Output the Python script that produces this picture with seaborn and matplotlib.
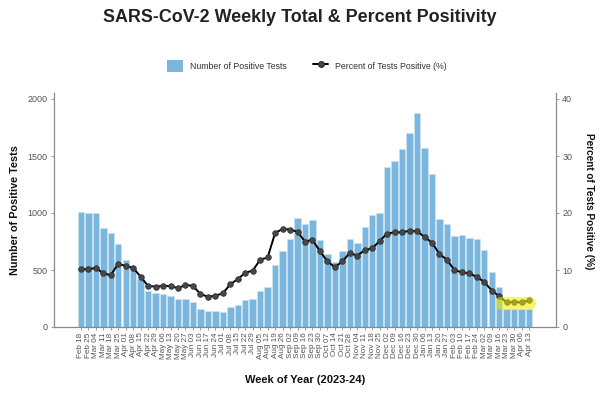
import matplotlib
matplotlib.use("Agg")
import matplotlib.pyplot as plt
import seaborn as sns
import pandas as pd
import numpy as np
from matplotlib.patches import Patch
from matplotlib.lines import Line2D

weeks = ["Feb 18", "Feb 25", "Mar 04", "Mar 11", "Mar 18", "Mar 25", "Apr 01", "Apr 08",
         "Apr 15", "Apr 22", "Apr 29", "May 06", "May 13", "May 20", "May 27", "Jun 03",
         "Jun 10", "Jun 17", "Jun 24", "Jul 01", "Jul 08", "Jul 15", "Jul 22", "Jul 29",
         "Aug 05", "Aug 12", "Aug 19", "Aug 26", "Sep 02", "Sep 09", "Sep 16", "Sep 23",
         "Sep 30", "Oct 07", "Oct 14", "Oct 21", "Oct 28", "Nov 04", "Nov 11", "Nov 18",
         "Nov 25", "Dec 02", "Dec 09", "Dec 16", "Dec 23", "Dec 30", "Jan 06", "Jan 13",
         "Jan 20", "Jan 27", "Feb 03", "Feb 10", "Feb 17", "Feb 24", "Mar 02", "Mar 09",
         "Mar 16", "Mar 23", "Mar 30", "Apr 06", "Apr 13"]

positives = [1006, 997, 1000, 865, 822, 725, 585, 523, 421, 319,
             295, 287, 275, 243, 243, 219, 161, 143, 143, 135,
             173, 196, 237, 249, 316, 354, 541, 670, 772, 959,
             901, 936, 766, 640, 573, 667, 769, 737, 880, 982,
             1003, 1401, 1459, 1559, 1699, 1874, 1573, 1342, 947, 901,
             795, 807, 784, 772, 673, 482, 354, 160, 158, 158, 162]

percent = [10.2, 10.1, 10.4, 9.4, 9.1, 11.1, 10.7, 10.4, 8.8, 7.2,
           7.1, 7.2, 7.2, 6.8, 7.4, 7.2, 5.8, 5.3, 5.5, 5.9,
           7.5, 8.4, 9.5, 9.9, 11.8, 12.2, 16.5, 17.2, 17.1, 16.7,
           15.0, 15.3, 13.3, 11.5, 10.5, 11.5, 13.0, 12.5, 13.5, 13.8,
           15.1, 16.4, 16.6, 16.6, 16.9, 16.8, 15.8, 14.8, 12.8, 11.8,
           10.0, 9.6, 9.4, 8.8, 7.9, 6.4, 5.4, 4.3, 4.4, 4.3, 4.7]

left_ticks = [0, 500, 1000, 1500, 2000]
right_ticks = [0, 10, 20, 30, 40]
n_highlight = 4  # last weeks highlighted

sns.set_theme(style="ticks")
plt.rcParams["font.family"] = ["Liberation Sans", "DejaVu Sans"]

bar_color = "#7ab6de"
gray_txt = "#555555"
spine_col = "#8a8a8a"

df = pd.DataFrame({"week": weeks, "positives": positives, "percent": percent})
df["pos"] = np.arange(len(df))
n = len(df)

fig = plt.figure(figsize=(6, 3.94), dpi=100)
ax = fig.add_axes([54 / 600, 1 - 327 / 394, 502 / 600, (327 - 93) / 394])

sns.barplot(data=df, x="week", y="positives", color=bar_color, saturation=1,
            width=0.86, edgecolor="#cfe5f3", linewidth=0.4, ax=ax)
ax.set_xlim(-3.6, n - 1 + 3.6)
ax.set_ylim(0, 2000 * (327 - 93) / 228)

ax2 = ax.twinx()
sns.lineplot(data=df, x="pos", y="percent", ax=ax2, color="black", lw=1.4,
             marker="o", markersize=4, markerfacecolor="#474747",
             markeredgecolor="#333333", markeredgewidth=0.6, legend=False)
ax2.set_ylim(0, 40 * (327 - 93) / 228)

# highlight of the most recent weeks
hl = df.tail(n_highlight)
ax2.plot([hl["pos"].iloc[0] - 0.75, hl["pos"].iloc[-1]],
         [hl["percent"].mean() - 0.3] * 2, color="#f2f000", alpha=0.55,
         lw=9.5, solid_capstyle="round", zorder=10)

# axes styling
ax.set_xticks(df["pos"])
ax.set_xticklabels(weeks, rotation=90, fontsize=5.9, color=gray_txt)
ax.set_yticks(left_ticks)
ax.set_yticklabels([str(t) for t in left_ticks], fontsize=6.5, color=gray_txt)
ax2.set_yticks(right_ticks)
ax2.set_yticklabels([str(t) for t in right_ticks], fontsize=6.5, color=gray_txt)
ax.tick_params(axis="x", length=2.5, width=0.6, color=spine_col, pad=1.5)
ax.tick_params(axis="y", length=2.5, width=0.6, color=spine_col, pad=2)
ax2.tick_params(axis="y", length=2.5, width=0.6, color=spine_col, pad=2)
ax.set_xlabel("")
ax.set_ylabel("")
ax2.set_ylabel("")
ax2.set_xlabel("")

for s in ["top", "right"]:
    ax.spines[s].set_visible(False)
for s in ["top", "left", "bottom"]:
    ax2.spines[s].set_visible(False)
ax.spines["left"].set_color(spine_col)
ax.spines["bottom"].set_color(spine_col)
ax2.spines["right"].set_color(spine_col)
for sp in [ax.spines["left"], ax.spines["bottom"], ax2.spines["right"]]:
    sp.set_linewidth(0.9)

# titles and labels
fig.text(0.5, 1 - 18 / 394, "SARS-CoV-2 Weekly Total & Percent Positivity",
         ha="center", va="center", fontsize=12.9, fontweight="bold", color="#222222")
fig.text(15 / 600, 1 - 210 / 394, "Number of Positive Tests", rotation=90,
         ha="center", va="center", fontsize=7.8, fontweight="bold", color="#111111")
fig.text(589 / 600, 1 - 201 / 394, "Percent of Tests Positive (%)", rotation=270,
         ha="center", va="center", fontsize=7.2, fontweight="bold", color="#111111")
fig.text(305 / 600, 1 - 380 / 394, "Week of Year (2023-24)",
         ha="center", va="center", fontsize=8.0, fontweight="bold", color="#111111")

handles = [Patch(facecolor=bar_color, edgecolor="none"),
           Line2D([0], [0], color="black", lw=1.4, marker="o", markersize=4,
                  markerfacecolor="#474747", markeredgecolor="#333333")]
labels = ["Number of Positive Tests", "Percent of Tests Positive (%)"]
leg = fig.legend(handles, labels, loc="center", bbox_to_anchor=(307 / 600, 1 - 66 / 394),
                 ncol=2, frameon=False, fontsize=6.3, handlelength=1.8, handleheight=1.8,
                 handletextpad=0.8, columnspacing=3.0)
for t in leg.get_texts():
    t.set_color("#333333")

fig.savefig("out.png", dpi=100)
